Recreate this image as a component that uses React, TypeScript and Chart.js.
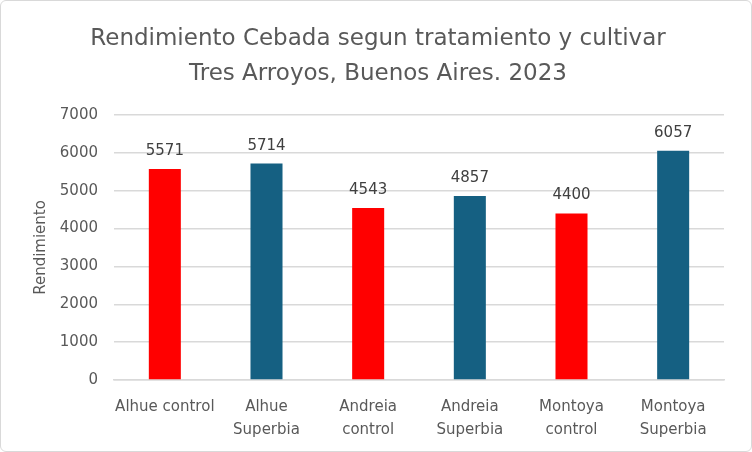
import React, { useEffect, useRef } from 'react';
import { Chart, registerables, Plugin } from 'chart.js';

Chart.register(...registerables);

const categories: string[][] = [
  ['Alhue control'],
  ['Alhue', 'Superbia'],
  ['Andreia', 'control'],
  ['Andreia', 'Superbia'],
  ['Montoya', 'control'],
  ['Montoya', 'Superbia'],
];
const rendimiento = [5571, 5714, 4543, 4857, 4400, 6057];
const barColors = ['#FF0000', '#156082', '#FF0000', '#156082', '#FF0000', '#156082'];
const titleLines = ['Rendimiento Cebada segun tratamiento y cultivar', 'Tres Arroyos, Buenos Aires. 2023'];
const yTitle = 'Rendimiento';

const FONT = "'DejaVu Sans', sans-serif";

// draws the value above each bar
const barValues: Plugin<'bar'> = {
  id: 'barValues',
  afterDatasetsDraw(chart) {
    const ctx = chart.ctx;
    const meta = chart.getDatasetMeta(0);
    ctx.save();
    ctx.font = `15px ${FONT}`;
    ctx.fillStyle = '#404040';
    ctx.textAlign = 'center';
    ctx.textBaseline = 'alphabetic';
    meta.data.forEach((bar, i) => {
      ctx.fillText(String(rendimiento[i]), bar.x, bar.y - 14);
    });
    ctx.restore();
  },
};

const App: React.FC = () => {
  const canvasRef = useRef<HTMLCanvasElement>(null);
  const chartRef = useRef<Chart | null>(null);

  useEffect(() => {
    if (!canvasRef.current) return;
    if (chartRef.current) chartRef.current.destroy();

    chartRef.current = new Chart(canvasRef.current, {
      type: 'bar',
      data: {
        labels: categories,
        datasets: [
          {
            label: yTitle,
            data: rendimiento,
            backgroundColor: barColors,
            categoryPercentage: 1,
            barPercentage: 0.315,
          },
        ],
      },
      options: {
        animation: false,
        responsive: false,
        layout: { padding: { top: 0, right: 27, bottom: 0, left: 31 } },
        plugins: {
          legend: { display: false },
          tooltip: { enabled: false },
          title: {
            display: true,
            text: titleLines,
            color: '#595959',
            font: { family: FONT, size: 23, weight: 'normal', lineHeight: 1.52 },
            padding: { top: 21, bottom: 23 },
          },
        },
        scales: {
          x: {
            grid: { display: false },
            border: { color: '#d9d9d9', width: 1.5 },
            afterFit: (scale) => {
              scale.height = 71;
            },
            ticks: {
              color: '#595959',
              font: { family: FONT, size: 15, lineHeight: 1.53 },
              padding: 8,
              maxRotation: 0,
              autoSkip: false,
            },
          },
          y: {
            min: 0,
            max: 7000,
            grid: { color: '#d9d9d9', lineWidth: 1.5, drawTicks: false },
            border: { display: false },
            afterFit: (scale) => {
              scale.width = 113 - 31;
            },
            ticks: {
              stepSize: 1000,
              color: '#595959',
              font: { family: FONT, size: 15 },
              padding: 16,
              callback: (v) => String(v),
            },
            title: {
              display: true,
              text: yTitle,
              color: '#595959',
              font: { family: FONT, size: 15 },
              padding: { top: 0, bottom: 0 },
            },
          },
        },
      },
      plugins: [barValues],
    });

    return () => {
      if (chartRef.current) {
        chartRef.current.destroy();
        chartRef.current = null;
      }
    };
  }, []);

  return (
    <div
      style={{
        position: 'fixed',
        left: 0,
        top: 0,
        width: 752,
        height: 452,
        boxSizing: 'border-box',
        border: '1px solid #d9d9d9',
        borderRadius: 6,
        background: '#fff',
        overflow: 'hidden',
      }}
    >
      <canvas ref={canvasRef} width={750} height={450} style={{ display: 'block' }} />
    </div>
  );
};

export default App;
